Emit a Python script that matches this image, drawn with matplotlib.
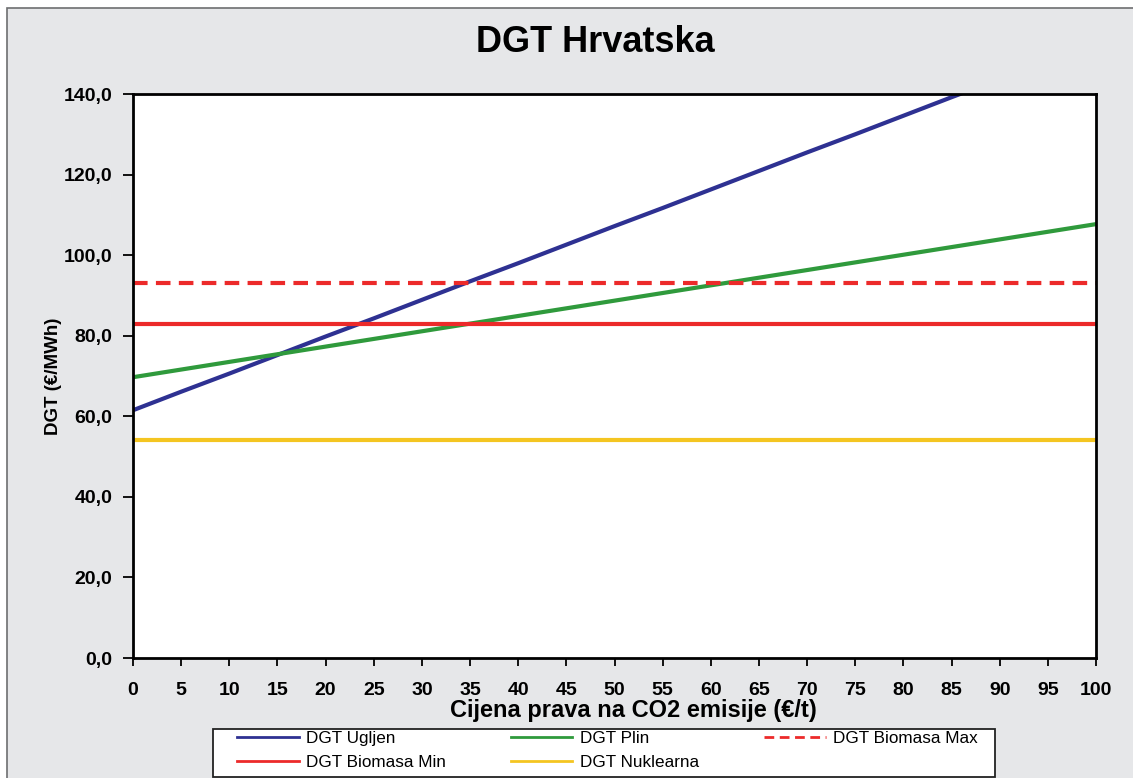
import matplotlib
matplotlib.use("Agg")
import matplotlib.pyplot as plt
from matplotlib.patches import Rectangle
from matplotlib.ticker import FuncFormatter

# ******************************************************************************
# Data
# ******************************************************************************
co2_price = [0, 5, 10, 15, 20, 25, 30, 35, 40, 45, 50,
             55, 60, 65, 70, 75, 80, 85, 90, 95, 100]
dgt_ugljen = [61.5, 66.1, 70.6, 75.2, 79.8, 84.3, 88.9, 93.5, 98.0, 102.6, 107.2,
              111.7, 116.3, 120.9, 125.5, 130.0, 134.6, 139.2, 143.7, 148.3, 152.9]
dgt_plin = [69.7, 71.6, 73.5, 75.4, 77.3, 79.2, 81.1, 83.0, 84.9, 86.8, 88.7,
            90.6, 92.5, 94.4, 96.3, 98.2, 100.1, 102.0, 103.9, 105.8, 107.7]
dgt_biomasa_max = 93.0
dgt_biomasa_min = 83.0
dgt_nuklearna = 54.0

x_ticks = list(range(0, 105, 5))
y_ticks = [0, 20, 40, 60, 80, 100, 120, 140]

# ******************************************************************************
# Figure
# ******************************************************************************
plt.rcParams['font.family'] = ['Liberation Sans', 'DejaVu Sans']

W, H = 1133, 778
fig = plt.figure(figsize=(W / 100, H / 100), dpi=100)
fig.patch.set_facecolor('white')
# grey chart area with a thin border on the left/top
bg = Rectangle((7 / W, -0.05), 1.1, (H - 8) / H + 0.05,
               transform=fig.transFigure, facecolor='#e6e7e9',
               edgecolor='#6d6e70', linewidth=1.2, zorder=-10)
fig.add_artist(bg)

ax = fig.add_axes([133 / W, 120 / H, 963 / W, 564 / H])
ax.set_zorder(1)
ax.set_facecolor('white')

lw = 3.0
l_ug, = ax.plot(co2_price, dgt_ugljen, color='#2e3192', lw=lw, label='DGT Ugljen')
l_pl, = ax.plot(co2_price, dgt_plin, color='#2f9a3c', lw=lw, label='DGT Plin')
l_bmax, = ax.plot([co2_price[0], co2_price[-1]], [dgt_biomasa_max] * 2, color='#ec2a2a',
                  lw=lw, ls=(0, (3.5, 2)), label='DGT Biomasa Max')
l_bmin, = ax.plot([co2_price[0], co2_price[-1]], [dgt_biomasa_min] * 2, color='#ec2a2a',
                  lw=lw, label='DGT Biomasa Min')
l_nuk, = ax.plot([co2_price[0], co2_price[-1]], [dgt_nuklearna] * 2, color='#f4c521',
                 lw=lw, label='DGT Nuklearna')

ax.set_xlim(0, 100)
ax.set_ylim(0, 140)
ax.set_xticks(x_ticks)
ax.set_yticks(y_ticks)
ax.yaxis.set_major_formatter(FuncFormatter(lambda v, p: f"{v:.1f}".replace('.', ',')))
ax.tick_params(direction='out', width=1.3, labelsize=14)
ax.tick_params(axis='x', length=5.5, pad=12)
ax.tick_params(axis='y', length=7, pad=8)
for lab in ax.get_xticklabels() + ax.get_yticklabels():
    lab.set_fontweight('bold')
for s in ax.spines.values():
    s.set_linewidth(2)
    s.set_color('black')

fig.text(595 / W, 1 - 43 / H, 'DGT Hrvatska', fontsize=26, fontweight='bold',
         ha='center', va='center')
ax.set_xlabel('Cijena prava na CO2 emisije (€/t)', fontsize=17, fontweight='bold', labelpad=0)
ax.xaxis.label.set_x((633 - 133) / 963)
ax.set_ylabel('DGT (€/MWh)', fontsize=13.5, fontweight='bold', labelpad=1)

# legend frame drawn separately so its padding matches
frame = Rectangle((213 / W, 1 - 777 / H), 782 / W, 48 / H, transform=fig.transFigure,
                  facecolor='white', edgecolor='#222222', linewidth=1.3, zorder=2)
fig.add_artist(frame)

# order so the legend reads row by row
handles = [l_ug, l_bmin, l_pl, l_nuk, l_bmax]
leg = fig.legend(handles=handles, labels=[h.get_label() for h in handles],
                 ncol=3, loc='upper left', bbox_to_anchor=(237 / W, 1 - 731 / H),
                 fontsize=12.3, frameon=False, borderpad=0, borderaxespad=0,
                 handlelength=3.6, columnspacing=3.8, handletextpad=0.45,
                 labelspacing=0.5)
leg.set_zorder(3)
for h in leg.legend_handles:
    h.set_linewidth(2)

fig.savefig('out.png', dpi=100)
